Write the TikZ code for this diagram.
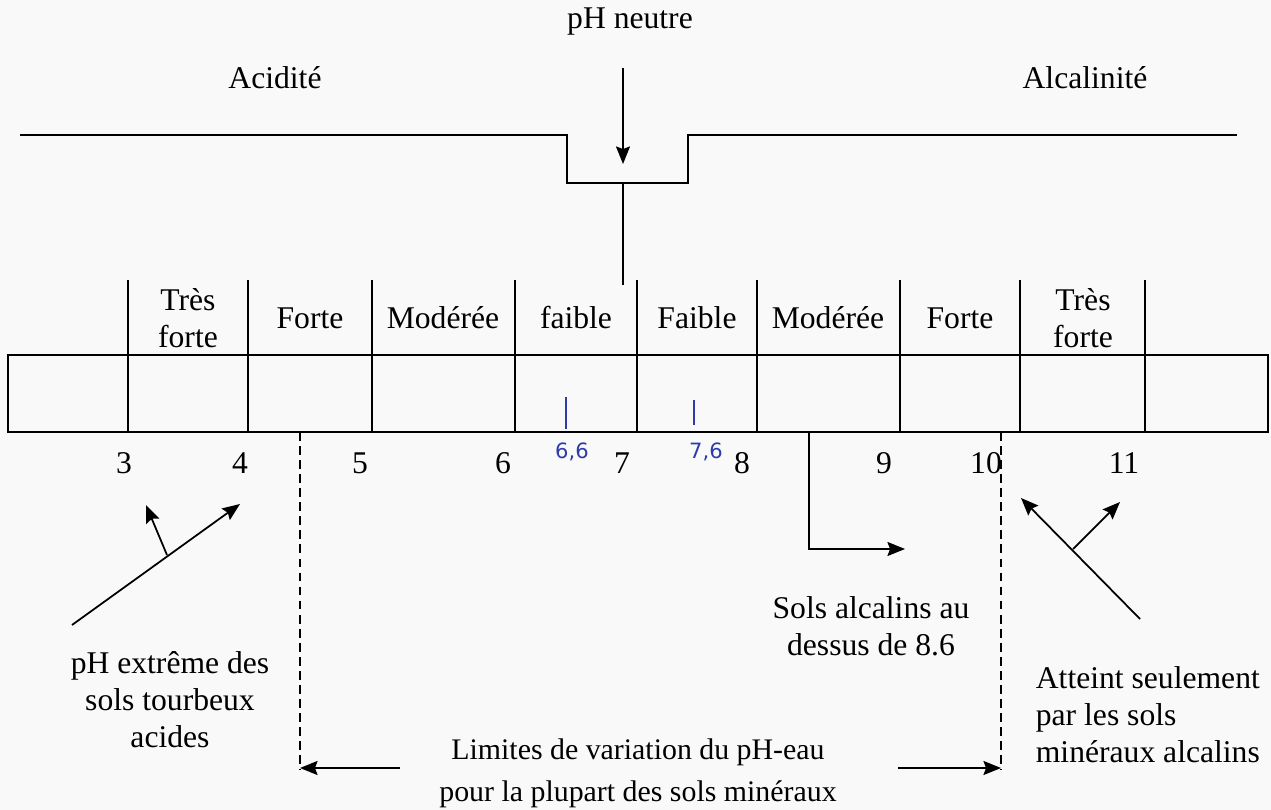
\documentclass[tikz,border=0pt]{standalone}
\usepackage{fontspec}
\setmainfont{Liberation Serif}
\newfontfamily\handfont{DejaVu Sans}
\usetikzlibrary{arrows.meta,positioning}
\definecolor{inkblue}{RGB}{45,60,170}

\begin{document}
\begin{tikzpicture}[x=0.02cm, y=-0.02cm, line width=1pt,
        >={Stealth[length=10pt,width=8pt,inset=1.5pt]},
        lbl/.style={font=\fontsize{18}{21}\selectfont, align=center, inner sep=0pt},
        hand/.style={font=\handfont\fontsize{12}{14}\selectfont, text=inkblue, inner sep=1pt},
        ink/.style={draw=inkblue, line width=0.8pt},
        limit/.style={dash pattern=on 5pt off 3pt}]

        \fill[gray!5] (0,0) rectangle (1271,810);
        \useasboundingbox (0,0) rectangle (1271,810);

        % top labels
        \node[lbl] (neutre) at (630,22) {pH neutre};
        \node[lbl] (acid) at (275,78) {Acidité};
        \node[lbl] (alcal) at (1085,78) {Alcalinité};

        % step line with the neutral notch
        \draw (20,135) -- (567,135) -- (567,183) -- (688,183) -- (688,135) -- (1237,135);
        \coordinate (notch) at (623,183);
        \coordinate (stem) at (623,285);
        \coordinate (nstart) at (623,68);
        \coordinate (ntip) at (623,164);
        \draw[->] (nstart) -- (ntip);
        \draw (notch) -- (stem);

        % scale box
        \draw (8,355) rectangle (1268,432);
        \foreach \x in {128,248,372,515,637,757,900,1020,1145}
            \draw (\x,280) -- (\x,432);

        \foreach \x/\t [count=\i] in {188/{Très\\forte}, 310/Forte, 443/Modérée, 576/faible,
                697/Faible, 828/Modérée, 960/Forte, 1083/{Très\\forte}}
            \node[lbl] (band\i) at (\x,318) {\t};

        \foreach \x/\n in {124/3, 240/4, 360/5, 503/6, 622/7, 742/8, 884/9, 986/10, 1124/11}
            \node[lbl] (num\n) at (\x,463) {\n};

        % handwritten marks
        \draw[ink] (566,397) -- (566,429);
        \draw[ink] (694,400) -- (694,425);
        \node[hand] (h66) at (572,452) {6,6};
        \node[hand] (h76) at (706,452) {7,6};

        % lower notes
        \node[lbl] (tourbe) at (170,700) {pH extrême des\\sols tourbeux\\acides};
        \node[lbl] (sols86) at (871,626) {Sols alcalins au\\dessus de 8.6};
        \node[lbl, align=left, anchor=west] (atteint) at (1035,715) {Atteint seulement\\par les sols\\minéraux alcalins};
        \node[lbl, font=\fontsize{17}{24}\selectfont] (limites) at (638,773) {Limites de variation du pH-eau\\pour la plupart des sols minéraux};

        % arrows to the extremes
        \coordinate (pe0) at (72,625);
        \coordinate (pe1) at (240,504);
        \coordinate (pe2) at (167,555);
        \coordinate (pe3) at (146,505);
        \draw[->] (pe0) -- (pe1);
        \draw[->] (pe2) -- (pe3);

        \coordinate (am0) at (1140,619);
        \coordinate (am1) at (1021,498);
        \coordinate (am2) at (1073,549);
        \coordinate (am3) at (1120,502);
        \draw[->] (am0) -- (am1);
        \draw[->] (am2) -- (am3);

        % alkaline above 8.6
        \coordinate (a86) at (809,432);
        \coordinate (a86end) at (905,549);
        \draw[->] (a86) |- (a86end);

        % usual range
        \coordinate (limL) at (300,432);
        \coordinate (limLb) at (300,770);
        \coordinate (limR) at (1001,432);
        \coordinate (limRb) at (1001,770);
        \draw[limit] (limL) -- (limLb);
        \draw[limit] (limR) -- (limRb);
        \coordinate (arL) at (400,768);
        \coordinate (arR) at (898,768);
        \draw[->] (arL) -- (limLb |- arL);
        \draw[->] (arR) -- (limRb |- arR);

    \end{tikzpicture}
\end{document}
